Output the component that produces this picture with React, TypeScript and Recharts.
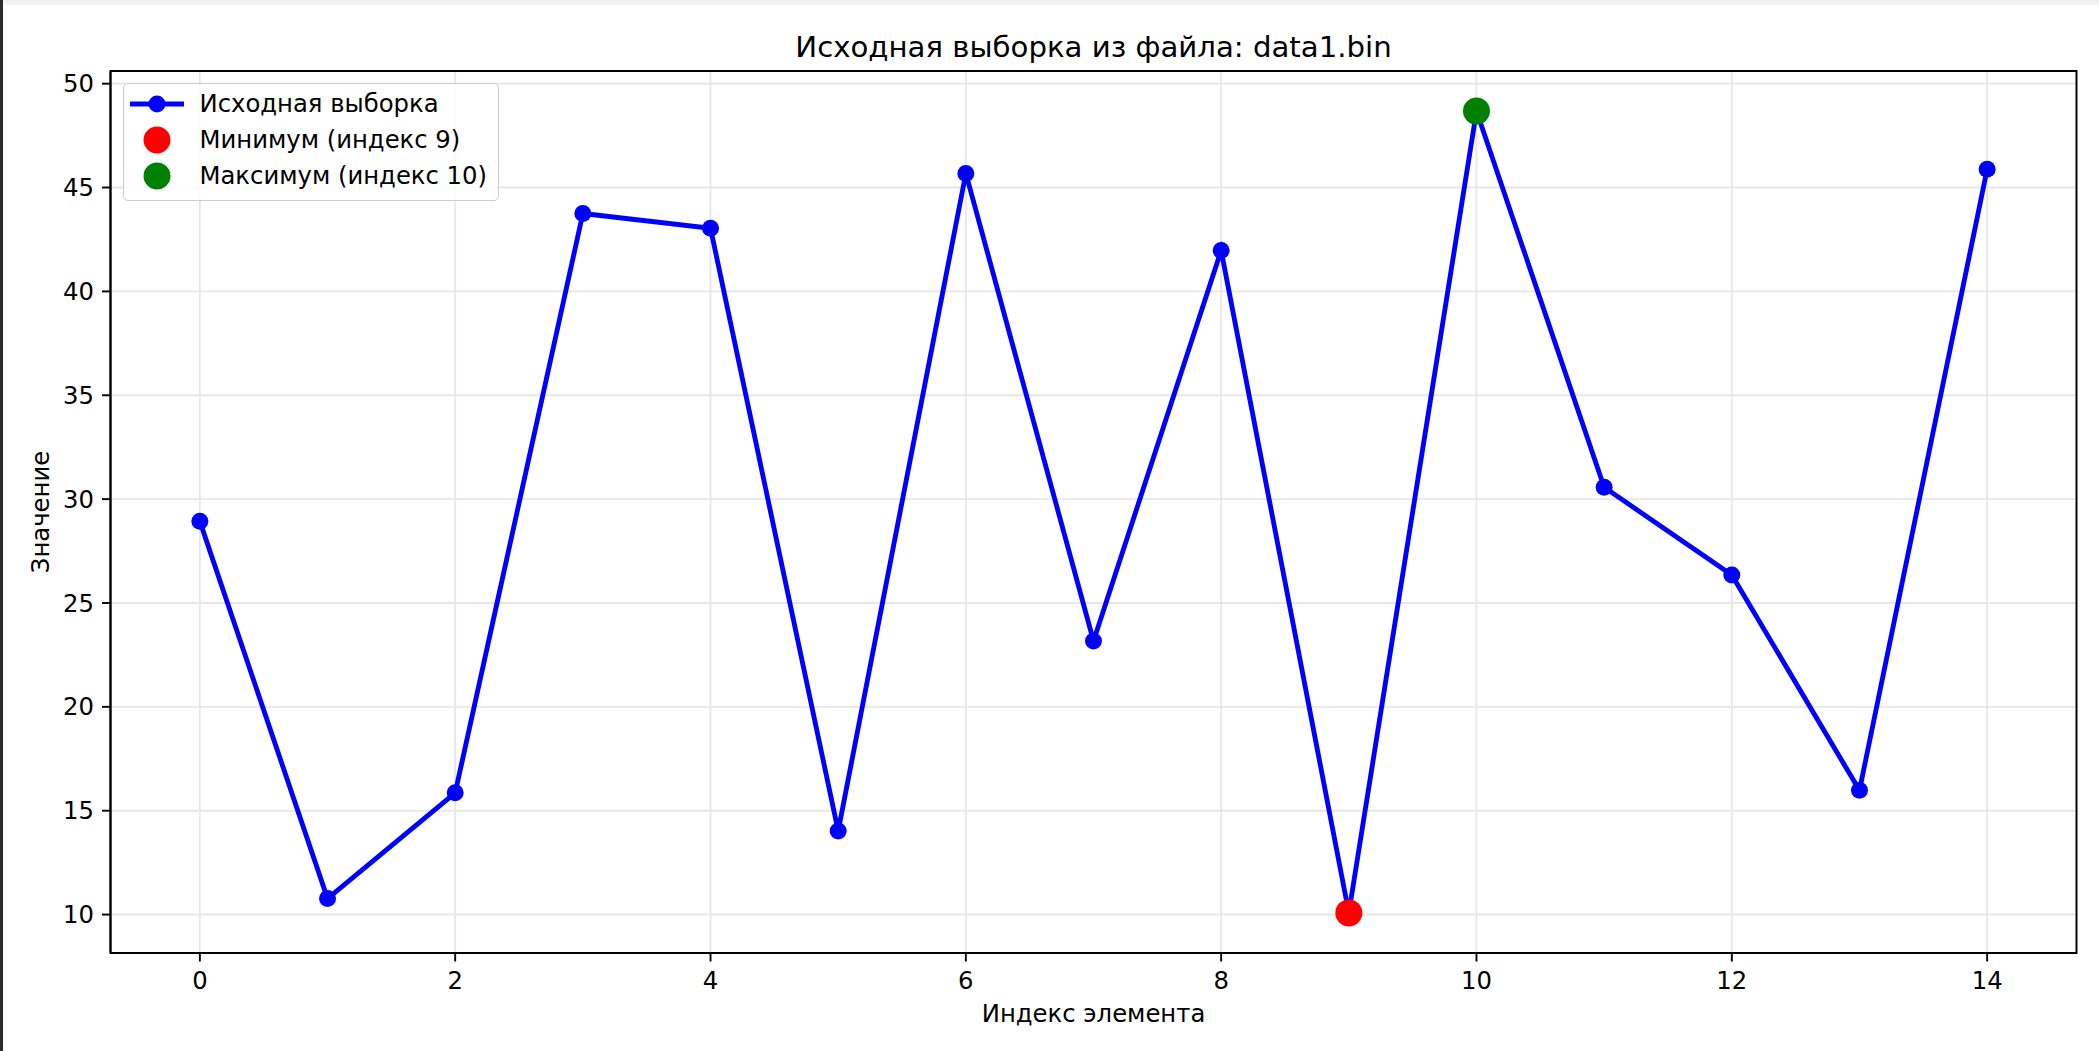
import React from "react";
import {
  ComposedChart,
  Line,
  Scatter,
  XAxis,
  YAxis,
  CartesianGrid,
  ReferenceArea,
} from "recharts";

const FONT = "'DejaVu Sans', sans-serif";

// sample read from data1.bin
const INDICES = [0, 1, 2, 3, 4, 5, 6, 7, 8, 9, 10, 11, 12, 13, 14];
const VALUES = [
  28.93, 10.77, 15.86, 43.75, 43.04, 14.02, 45.68, 23.17, 41.97, 10.08, 48.68, 30.57, 26.35, 15.98, 45.88,
];
const X_TICKS = [0, 2, 4, 6, 8, 10, 12, 14];
const Y_TICKS = [10, 15, 20, 25, 30, 35, 40, 45, 50];
const X_DOMAIN: [number, number] = [-0.7, 14.7];
const Y_DOMAIN: [number, number] = [8.15, 50.61];

const TITLE = "Исходная выборка из файла: data1.bin";
const X_LABEL = "Индекс элемента";
const Y_LABEL = "Значение";
const SERIES_NAME = "Исходная выборка";

const minIdx = VALUES.indexOf(Math.min(...VALUES));
const maxIdx = VALUES.indexOf(Math.max(...VALUES));

const lineData = INDICES.map((x, i) => ({ x, y: VALUES[i] }));
const minData = [{ x: INDICES[minIdx], y: VALUES[minIdx] }];
const maxData = [{ x: INDICES[maxIdx], y: VALUES[maxIdx] }];

const BLUE = "#0000ff";
const RED = "#ff0000";
const GREEN = "#008000";
const TICK = { fill: "#000", fontSize: 24.3, fontFamily: FONT };

const bigDot = (color: string) => (props: any) => (
  <circle cx={props.cx} cy={props.cy} r={13.5} fill={color} />
);

function LegendBox() {
  const rows = [
    { kind: "line", label: SERIES_NAME, color: BLUE },
    { kind: "dot", label: `Минимум (индекс ${INDICES[minIdx]})`, color: RED },
    { kind: "dot", label: `Максимум (индекс ${INDICES[maxIdx]})`, color: GREEN },
  ];
  return (
    <div
      style={{
        position: "absolute",
        left: 123,
        top: 83,
        width: 376,
        height: 118,
        boxSizing: "border-box",
        border: "1.9px solid #cccccc",
        borderRadius: 5,
        background: "rgba(255,255,255,0.8)",
        fontFamily: FONT,
        fontSize: 24.3,
      }}
    >
      {rows.map((r, i) => (
        <div key={r.label} style={{ position: "absolute", left: 0, top: 19.6 + i * 36.2 - 17, height: 34, width: "100%" }}>
          <svg width={60} height={34} style={{ position: "absolute", left: 4, top: 0 }}>
            {r.kind === "line" ? (
              <>
                <line x1={2} y1={17} x2={56} y2={17} stroke={r.color} strokeWidth={4.86} />
                <circle cx={29} cy={17} r={8.5} fill={r.color} />
              </>
            ) : (
              <circle cx={29} cy={17} r={13.5} fill={r.color} />
            )}
          </svg>
          <span style={{ position: "absolute", left: 75.5, top: 0, lineHeight: "34px", whiteSpace: "nowrap" }}>
            {r.label}
          </span>
        </div>
      ))}
    </div>
  );
}

export default function App() {
  return (
    <div
      style={{
        position: "fixed",
        left: 0,
        top: 0,
        width: 2099,
        height: 1051,
        background: "#fff",
        overflow: "hidden",
        fontFamily: FONT,
      }}
    >
      <div style={{ position: "absolute", left: 0, top: 0, width: 2099, height: 5, background: "#f2f2f2" }} />
      <div style={{ position: "absolute", left: 0, top: 0, width: 3, height: 1051, background: "#2b2b2b" }} />

      <div
        style={{
          position: "absolute",
          left: 110,
          top: 32,
          width: 1967,
          textAlign: "center",
          fontSize: 29.2,
          lineHeight: "30px",
          color: "#000",
        }}
      >
        {TITLE}
      </div>

      <div style={{ position: "absolute", left: 0, top: 0 }}>
        <ComposedChart
          width={2099}
          height={1051}
          data={lineData}
          margin={{ top: 71, right: 22.5, bottom: 0, left: 0 }}
        >
          <CartesianGrid stroke="#e7e7e7" strokeWidth={1.9} />
          <XAxis
            type="number"
            dataKey="x"
            domain={X_DOMAIN}
            ticks={X_TICKS}
            allowDataOverflow
            height={98}
            tick={TICK}
            tickSize={8.5}
            tickMargin={10}
            axisLine={{ stroke: "#000", strokeWidth: 1.9 }}
            tickLine={{ stroke: "#000", strokeWidth: 1.9 }}
          />
          <YAxis
            type="number"
            dataKey="y"
            domain={Y_DOMAIN}
            ticks={Y_TICKS}
            allowDataOverflow
            width={110.5}
            tick={TICK}
            tickSize={8.5}
            tickMargin={8}
            axisLine={{ stroke: "#000", strokeWidth: 1.9 }}
            tickLine={{ stroke: "#000", strokeWidth: 1.9 }}
          />
          <ReferenceArea
            x1={X_DOMAIN[0]}
            x2={X_DOMAIN[1]}
            y1={Y_DOMAIN[0]}
            y2={Y_DOMAIN[1]}
            fill="none"
            stroke="#000"
            strokeWidth={1.9}
          />
          <Line
            type="linear"
            dataKey="y"
            stroke={BLUE}
            strokeWidth={4.86}
            dot={{ r: 8.5, fill: BLUE, stroke: "none" }}
            activeDot={false}
            isAnimationActive={false}
          />
          <Scatter data={minData} dataKey="y" shape={bigDot(RED)} isAnimationActive={false} />
          <Scatter data={maxData} dataKey="y" shape={bigDot(GREEN)} isAnimationActive={false} />
        </ComposedChart>
      </div>

      <LegendBox />

      <div
        style={{
          position: "absolute",
          left: 110,
          top: 1001,
          width: 1967,
          textAlign: "center",
          fontSize: 24.3,
          lineHeight: "26px",
          color: "#000",
        }}
      >
        {X_LABEL}
      </div>
      <div
        style={{
          position: "absolute",
          left: 41,
          top: 512,
          transform: "translate(-50%, -50%) rotate(-90deg)",
          fontSize: 24.3,
          lineHeight: "26px",
          whiteSpace: "nowrap",
          color: "#000",
        }}
      >
        {Y_LABEL}
      </div>
    </div>
  );
}
